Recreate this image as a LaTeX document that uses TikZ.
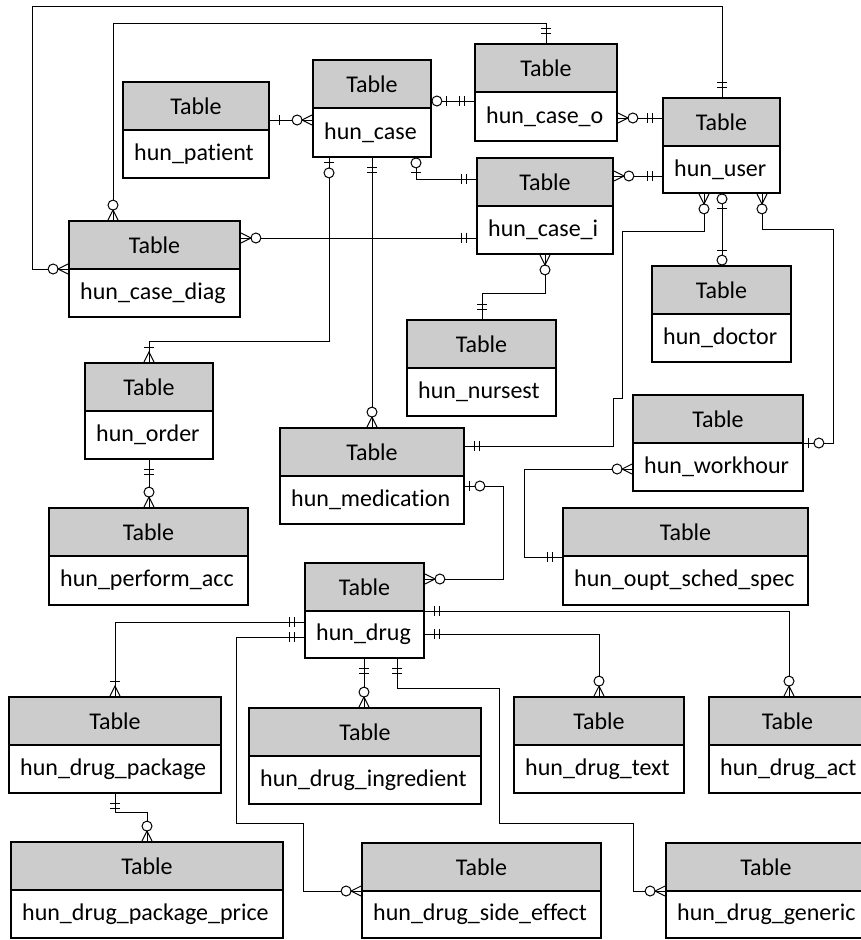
\documentclass[tikz,border=0pt]{standalone}
\usepackage{fontspec}
\setmainfont{Carlito}[Ligatures=NoCommon]
\usetikzlibrary{fit,decorations.markings}

\definecolor{hdrgray}{RGB}{204,204,204}

% relationship end symbols, drawn with the entity edge at x=0
\newcommand\ermkzm{\draw[mkline, fill=white] (-15,0) circle[radius=5];
  \draw[mkline] (0,5) -- (-10,0) -- (0,-5);}
\newcommand\ermkom{\draw[mkline] (-15,-5) -- (-15,5);
  \draw[mkline] (0,5) -- (-10,0) -- (0,-5);}
\newcommand\ermkmo{\draw[mkline] (-15,-5) -- (-15,5) (-10,-5) -- (-10,5);}
\newcommand\ermkone{\draw[mkline] (-10,-5) -- (-10,5);}
\newcommand\ermkzoA{\draw[mkline] (-5,-5) -- (-5,5);
  \draw[mkline, fill=white] (-15,0) circle[radius=5];}
\newcommand\ermkzoB{\draw[mkline] (-15,-5) -- (-15,5);
  \draw[mkline, fill=white] (-5,0) circle[radius=5];}

\tikzset{
  hdrfill/.style={fill=hdrgray},
  tablebox/.style={draw=black, line width=1.8pt, inner sep=0pt},
  divline/.style={line width=1.8pt},
  labeltext/.style={font=\fontsize{24}{29}\selectfont, inner sep=0pt},
  rel/.style={line width=1pt},
  mkline/.style={line width=1pt},
  mk from/.style={postaction={decorate, decoration={markings,
      mark=at position 0 with {\begin{scope}[xscale=-1]\csname ermk#1\endcsname\end{scope}}}}},
  mk to/.style={postaction={decorate, decoration={markings,
      mark=at position 1 with {\csname ermk#1\endcsname}}}},
}

% #1 name, #2 left, #3 top, #4 right, #5 bottom, #6 table name
\newcommand\ertable[6]{%
  \fill[hdrfill] (#2,#3) rectangle (#4,#3+48);
  \node[tablebox, fit={(#2,#3) (#4,#5)}] (#1) {};
  \draw[divline] (#2,#3+48) -- (#4,#3+48);
  \node[labeltext] (#1-head) at ({(#2+#4)/2},#3+24) {Table};
  \node[labeltext, anchor=west] (#1-name) at (#2+11,{(#3+48+#5)/2}) {#6};
}

\begin{document}
\begin{tikzpicture}[x=1pt, y=-1pt]
\useasboundingbox (0,0) rectangle (860,940);

% tables
\ertable{patient}{123}{82}{269}{178}{hun\_patient}
\ertable{case}{313}{60}{431}{157}{hun\_case}
\ertable{caseo}{475}{44}{617}{141}{hun\_case\_o}
\ertable{user}{663}{98}{780}{193}{hun\_user}
\ertable{casei}{477}{158}{613}{254}{hun\_case\_i}
\ertable{casediag}{69}{221}{240}{317}{hun\_case\_diag}
\ertable{doctor}{652}{266}{791}{362}{hun\_doctor}
\ertable{nursest}{407}{320}{556}{416}{hun\_nursest}
\ertable{order}{85}{363}{213}{459}{hun\_order}
\ertable{medication}{280}{428}{464}{524}{hun\_medication}
\ertable{workhour}{633}{395}{803}{491}{hun\_workhour}
\ertable{oupt}{563}{508}{808}{605}{hun\_oupt\_sched\_spec}
\ertable{perform}{49}{508}{248}{605}{hun\_perform\_acc}
\ertable{drug}{305}{563}{424}{658}{hun\_drug}
\ertable{package}{9}{697}{221}{793}{hun\_drug\_package}
\ertable{ingredient}{249}{708}{481}{804}{hun\_drug\_ingredient}
\ertable{dtext}{514}{697}{684}{793}{hun\_drug\_text}
\ertable{act}{709}{697}{866}{793}{hun\_drug\_act}
\ertable{price}{11}{842}{283}{938}{hun\_drug\_package\_price}
\ertable{side}{362}{843}{601}{938}{hun\_drug\_side\_effect}
\ertable{generic}{666}{843}{866}{938}{hun\_drug\_generic}

% relationships
\draw[rel, mk from=one, mk to=zm] (patient.east |- 0,120) -- (case.west |- 0,120);
\draw[rel, mk from=zoB, mk to=mo] (case.east |- 0,101) -- (caseo.west |- 0,101);
\draw[rel, mk from=zm, mk to=mo] (caseo.east |- 0,118) -- (user.west |- 0,118);
\draw[rel, mk from=zm, mk to=mo] (casei.east |- 0,176) -- (user.west |- 0,176);
\draw[rel, mk from=zoB, mk to=mo] (case.south -| 416,0) |- (casei.west |- 0,179);
\draw[rel, mk from=zm, mk to=mo] (casediag.east |- 0,238) -- (casei.west |- 0,238);
\draw[rel, mk from=zm, mk to=mo] (casediag.north -| 113,0) -- (113,23) -| (caseo.north -| 546,0);
\draw[rel, mk from=zm, mk to=mo] (casediag.west |- 0,269) -- (32,269) |- (722,6) -- (user.north -| 722,0);
\draw[rel, mk from=zoA, mk to=om] (case.south -| 329,0) -- (329,341) -| (order.north -| 149,0);
\draw[rel, mk from=mo, mk to=zm] (case.south -| 372,0) -- (medication.north -| 372,0);
\draw[rel, mk from=zm, mk to=mo] (casei.south -| 545,0) -- (545,293) -| (nursest.north -| 482,0);
\draw[rel, mk from=zm, mk to=mo] (user.south -| 704,0) -- (704,231) -| (622,398) -| (613,446) -- (medication.east |- 0,446);
\draw[rel, mk from=zm, mk to=zoA] (user.south -| 762,0) -- (762,229) -| (833,443) -- (workhour.east |- 0,443);
\draw[rel, mk from=zoB, mk to=zoB] (user.south -| 722,0) -- (doctor.north -| 722,0);
\draw[rel, mk from=zm, mk to=mo] (workhour.west |- 0,469) -| (524,557) -- (oupt.west |- 0,557);
\draw[rel, mk from=mo, mk to=zm] (order.south -| 149,0) -- (perform.north -| 149,0);
\draw[rel, mk from=zoA, mk to=zm] (medication.east |- 0,486) -| (503,579) -- (drug.east |- 0,579);
\draw[rel, mk from=mo, mk to=zm] (drug.east |- 0,611) -| (act.north -| 789,0);
\draw[rel, mk from=mo, mk to=zm] (drug.east |- 0,634) -| (dtext.north -| 599,0);
\draw[rel, mk from=mo, mk to=om] (drug.west |- 0,622) -| (package.north -| 115,0);
\draw[rel, mk from=mo, mk to=zm] (drug.west |- 0,637) -| (236,823) -| (303,891) -- (side.west |- 0,891);
\draw[rel, mk from=mo, mk to=zm] (drug.south -| 364,0) -- (ingredient.north -| 364,0);
\draw[rel, mk from=mo, mk to=zm] (drug.south -| 397,0) |- (499,688) |- (633,823) |- (generic.west |- 0,891);
\draw[rel, mk from=mo, mk to=zm] (package.south -| 115,0) |- (147,812) -- (price.north -| 147,0);
\end{tikzpicture}
\end{document}
